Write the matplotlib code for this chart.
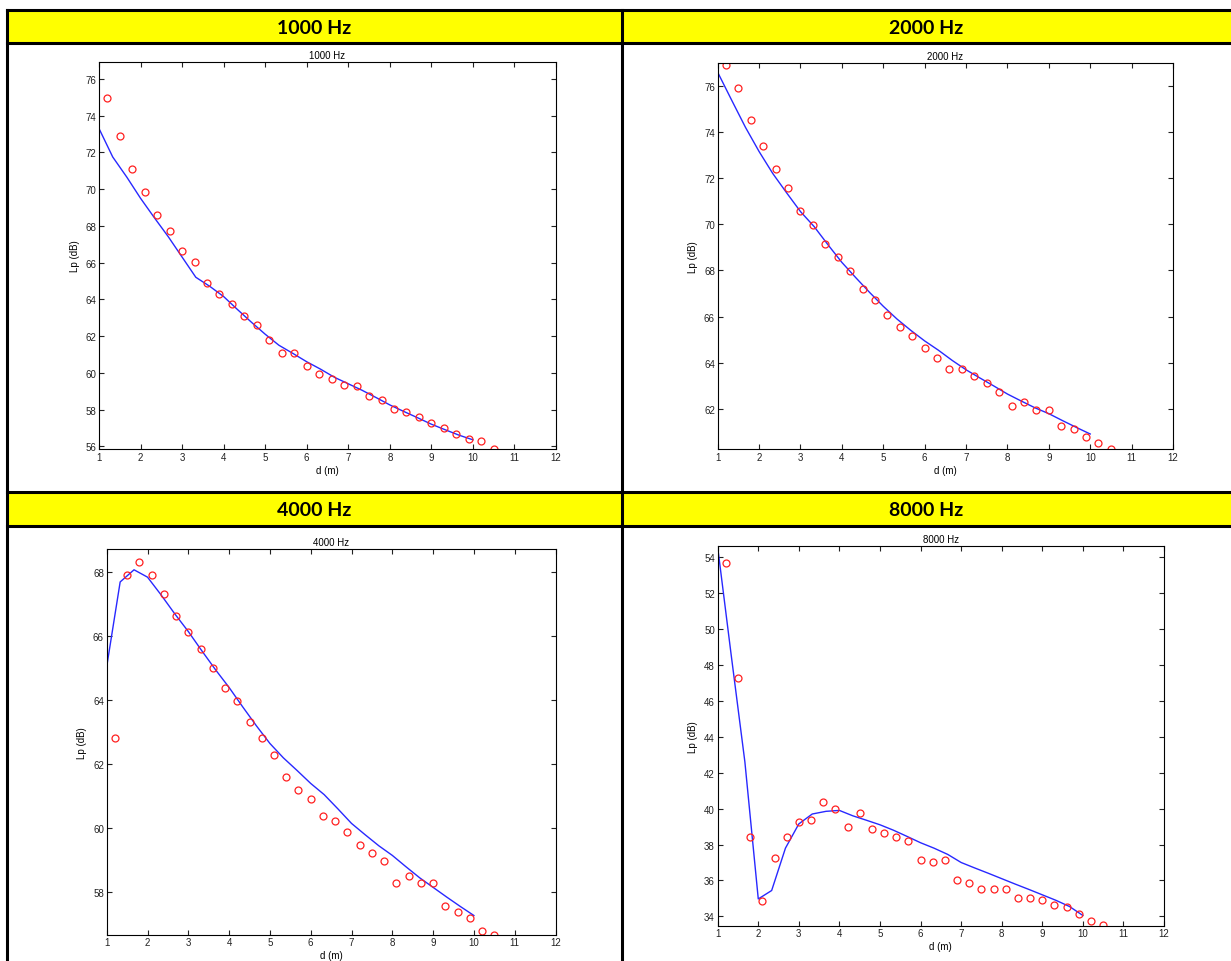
import matplotlib
matplotlib.use("Agg")
import matplotlib.pyplot as plt

# distancias de medida (puntos) y del modelo (linea)
d_med = [1.2, 1.5, 1.8, 2.1, 2.4, 2.7, 3.0, 3.3, 3.6, 3.9, 4.2, 4.5, 4.8, 5.1, 5.4, 5.7,
         6.0, 6.3, 6.6, 6.9, 7.2, 7.5, 7.8, 8.1, 8.4, 8.7, 9.0, 9.3, 9.6, 9.9, 10.2, 10.5]
d_mod = [1.0, 1.33, 1.67, 2.0, 2.33, 2.67, 3.0, 3.33, 3.67, 4.0, 4.33, 4.67, 5.0, 5.33,
         5.67, 6.0, 6.33, 6.67, 7.0, 7.33, 7.67, 8.0, 8.33, 8.67, 9.0, 9.33, 9.67, 10.0]

lp_1000 = [74.97, 72.88, 71.07, 69.82, 68.6, 67.7, 66.63, 66.03, 64.88, 64.28, 63.76, 63.1,
           62.6, 61.76, 61.05, 61.1, 60.36, 59.95, 59.64, 59.35, 59.28, 58.76, 58.54, 58.04,
           57.86, 57.57, 57.26, 56.97, 56.66, 56.42, 56.26, 55.85]
mod_1000 = [73.3, 71.75, 70.65, 69.5, 68.45, 67.4, 66.3, 65.2, 64.7, 64.15, 63.45, 62.75,
            62.1, 61.5, 61.05, 60.6, 60.2, 59.75, 59.4, 59.05, 58.65, 58.25, 57.9, 57.55,
            57.2, 56.9, 56.6, 56.35]

lp_2000 = [76.9, 75.89, 74.5, 73.39, 72.39, 71.56, 70.58, 69.97, 69.15, 68.57, 67.98, 67.2,
           66.7, 66.07, 65.57, 65.15, 64.64, 64.23, 63.74, 63.74, 63.43, 63.14, 62.73, 62.13,
           62.32, 61.96, 61.96, 61.25, 61.14, 60.8, 60.55, 60.26]
mod_2000 = [76.58, 75.4, 74.2, 73.15, 72.2, 71.35, 70.55, 69.9, 69.1, 68.35, 67.7, 67.05,
            66.45, 65.9, 65.4, 64.95, 64.55, 64.1, 63.7, 63.35, 63.0, 62.65, 62.35, 62.05,
            61.8, 61.5, 61.2, 60.92]

lp_4000 = [62.81, 67.93, 68.32, 67.93, 67.31, 66.62, 66.12, 65.6, 65.01, 64.39, 63.99, 63.31,
           62.81, 62.3, 61.59, 61.21, 60.91, 60.39, 60.21, 59.89, 59.49, 59.21, 58.99, 58.28,
           58.5, 58.28, 58.28, 57.58, 57.39, 57.19, 56.78, 56.67]
mod_4000 = [65.05, 67.7, 68.08, 67.85, 67.3, 66.7, 66.15, 65.55, 64.95, 64.4, 63.8, 63.2,
            62.65, 62.2, 61.8, 61.4, 61.05, 60.6, 60.15, 59.8, 59.45, 59.15, 58.8, 58.45,
            58.15, 57.85, 57.55, 57.27]

lp_8000 = [53.7, 47.28, 38.44, 34.88, 37.24, 38.44, 39.24, 39.37, 40.37, 39.96, 38.96, 39.76,
           38.87, 38.64, 38.44, 38.22, 37.16, 37.05, 37.16, 36.05, 35.87, 35.53, 35.53, 35.53,
           35.03, 35.03, 34.92, 34.64, 34.53, 34.13, 33.76, 33.53]
mod_8000 = [54.55, 48.6, 42.6, 34.97, 35.44, 37.8, 39.15, 39.7, 39.85, 39.9, 39.6, 39.35,
            39.1, 38.8, 38.45, 38.1, 37.8, 37.45, 37.0, 36.7, 36.4, 36.1, 35.8, 35.5,
            35.2, 34.9, 34.55, 34.05]

titulos = ['1000 Hz', '2000 Hz', '4000 Hz', '8000 Hz']
medidas = [lp_1000, lp_2000, lp_4000, lp_8000]
modelos = [mod_1000, mod_2000, mod_4000, mod_8000]

W, H = 1231, 962
fig = plt.figure(figsize=(W / 100, H / 100), dpi=100)

# fondo: tabla con cabeceras amarillas
fondo = fig.add_axes([0, 0, 1, 1])
fondo.set_xlim(0, W)
fondo.set_ylim(H, 0)
fondo.axis('off')
izq, mitad, der = 7, 621.5, W + 2
for (y0, y1) in [(11, 44), (493, 527)]:
    fondo.fill_between([izq, der], y0, y1, color='#ffff00', zorder=0)
    fondo.plot([izq, der], [y0, y0], color='black', lw=2.2)
    fondo.plot([izq, der], [y1, y1], color='black', lw=2.2)
fondo.plot([izq, izq], [11, H], color='black', lw=2.2)
fondo.plot([mitad, mitad], [11, H], color='black', lw=2.2)
for i, t in enumerate(titulos):
    xc = (izq + mitad) / 2 if i % 2 == 0 else (mitad + 1231) / 2
    yc = 28 if i < 2 else 510
    fondo.text(xc, yc, t, ha='center', va='center', fontsize=14,
               fontweight='bold', family='Lato')

# posiciones de los ejes en pixeles: x0, x1, arriba, abajo, limites y
cajas = [(99, 556, 63, 450, 55.85, 76.92),
         (717.7, 1173, 64.3, 450, 60.27, 76.97),
         (106.7, 555.5, 550, 935.7, 56.67, 68.73),
         (717.7, 1164, 547.3, 926.7, 33.48, 54.61)]

for i in range(4):
    x0, x1, top, bot, ymin, ymax = cajas[i]
    ax = fig.add_axes([x0 / W, 1 - bot / H, (x1 - x0) / W, (bot - top) / H])
    ax.plot(d_mod, modelos[i], color='#2828ff', lw=1)
    ax.plot(d_med, medidas[i], 'o', mfc='none', mec='#ff2020', ms=5, mew=0.9)
    ax.set_xlim(1, 12)
    ax.set_xticks(range(1, 13))
    ax.set_yticks(range(34, 78, 2))
    ax.set_ylim(ymin, ymax)
    ax.tick_params(direction='in', top=True, right=True, length=3.5, width=0.8,
                   labelsize=7, pad=2, colors='#222222')
    for lab in ax.get_xticklabels() + ax.get_yticklabels():
        lab.set_family('Liberation Sans')
    for s in ax.spines.values():
        s.set_linewidth(0.8)
    ax.set_title(titulos[i], fontsize=7, family='Liberation Sans', pad=3)
    ax.set_xlabel('d (m)', fontsize=7, family='Liberation Sans', labelpad=2)
    ax.set_ylabel('Lp (dB)', fontsize=7, family='Liberation Sans', labelpad=4)

fig.savefig('out.png', dpi=100)
